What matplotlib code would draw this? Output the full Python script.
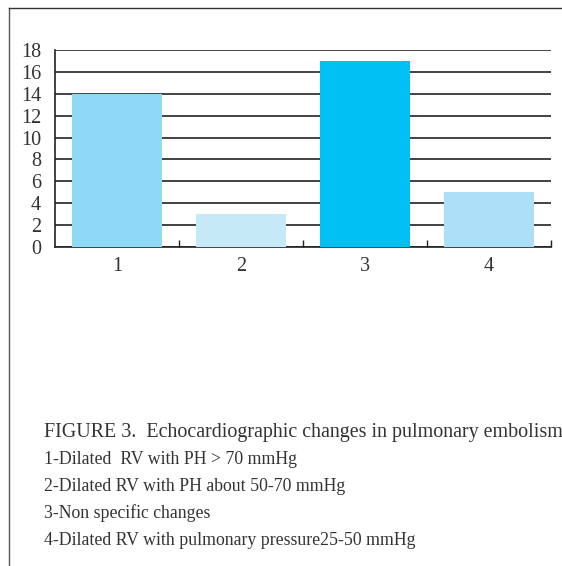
import matplotlib
matplotlib.use("Agg")
from matplotlib import pyplot as plt
from matplotlib.lines import Line2D

# data
categories = ["1", "2", "3", "4"]
counts = [14, 3, 17, 5]
bar_colors = ["#8fd9f6", "#c6e9f8", "#00bff3", "#abe0f8"]
caption = "FIGURE 3.  Echocardiographic changes in pulmonary embolism"
notes = [
    "1-Dilated  RV with PH > 70 mmHg",
    "2-Dilated RV with PH about 50-70 mmHg",
    "3-Non specific changes",
    "4-Dilated RV with pulmonary pressure25-50 mmHg",
]

plt.rcParams['font.family'] = ['Liberation Serif', 'DejaVu Serif']

W, H = 562, 566
fig = plt.figure(figsize=(W / 100, H / 100), dpi=100)
ax = fig.add_axes([55 / W, 1 - 247 / H, (551 - 55) / W, (247 - 50) / H])

x = list(range(len(categories)))
ax.bar(x, counts, width=0.726, color=bar_colors, zorder=3)
ax.set_xlim(-0.5, len(categories) - 0.5)
ax.set_ylim(0, 18)
ax.set_yticks(range(0, 19, 2))
ax.yaxis.grid(True, color="#222222", linewidth=1.2, zorder=0)
ax.set_axisbelow(True)
ax.tick_params(axis="y", length=0, labelsize=14.5, pad=10, colors="#333333")
ax.set_xticks(x)
ax.set_xticklabels(categories)
ax.tick_params(axis="x", length=0, labelsize=14.5, pad=7, colors="#333333")
ax.set_xticks([i + 0.5 for i in x], minor=True)
ax.tick_params(axis="x", which="minor", direction="in", length=5, width=1, color="#222222")
for s in ["top", "right"]:
    ax.spines[s].set_visible(False)
for s in ["left", "bottom"]:
    ax.spines[s].set_color("#222222")
    ax.spines[s].set_linewidth(1.2)

# outer frame lines
fig.add_artist(Line2D([9 / W, 9 / W], [0, 1 - 8 / H], transform=fig.transFigure, color="#555555", lw=1))
fig.add_artist(Line2D([9 / W, 1], [1 - 8 / H, 1 - 8 / H], transform=fig.transFigure, color="#333333", lw=1))

fig.text(44 / W, 1 - 433 / H, caption, fontsize=14.4, va="center", ha="left", color="#333333")
for i, t in enumerate(notes):
    fig.text(44 / W, 1 - (460 + i * 26.7) / H, t, fontsize=12.8, va="center", ha="left", color="#333333")

fig.savefig("out.png", dpi=100)
